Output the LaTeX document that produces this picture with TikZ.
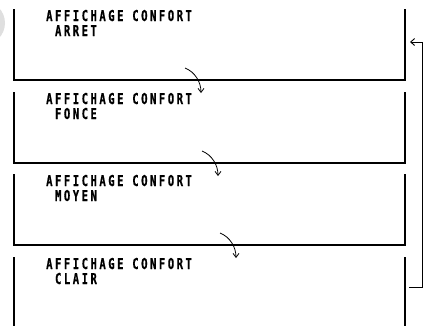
\documentclass[tikz,border=0pt]{standalone}
\usepackage{fontspec}
\usetikzlibrary{arrows.meta}
\newfontfamily\lblfont[FakeStretch=0.7,LetterSpace=17,FakeBold=0.6]{DejaVu Sans Mono Bold}
\tikzset{
  boxline/.style={line width=1.3pt},
  lbl/.style={anchor=base west,inner sep=0pt,font=\lblfont\fontsize{15}{16}\selectfont,align=left},
  flow/.style={line width=0.8pt,-{Straight Barb[length=4pt,width=6pt]}},
  back/.style={line width=0.9pt,-{Straight Barb[length=4pt,width=7pt]}}
}
\begin{document}
\begin{tikzpicture}[x=1pt,y=-1pt]
\useasboundingbox (0,0) rectangle (426,325);
\fill[gray!25] (-17,23) circle (22);
% boxes
\draw[boxline] (14,9) -- (14,80) -- (405,80) -- (405,9);
\draw[boxline] (14,92) -- (14,163) -- (405,163) -- (405,92);
\draw[boxline] (14,174) -- (14,245) -- (405,245) -- (405,174);
\draw[boxline] (14,257) -- (14,330);
\draw[boxline] (405,257) -- (405,330);
% labels
\node[lbl] (t1) at (46,21) {AFFICHAGE CONFORT};
\node[lbl] (s1) at (46,36) {\ ARRET};
\node[lbl] (t2) at (46,104) {AFFICHAGE CONFORT};
\node[lbl] (s2) at (46,119) {\ FONCE};
\node[lbl] (t3) at (46,186) {AFFICHAGE CONFORT};
\node[lbl] (s3) at (46,201) {\ MOYEN};
\node[lbl] (t4) at (46,269) {AFFICHAGE CONFORT};
\node[lbl] (s4) at (46,284) {\ CLAIR};
% transition arrows
\coordinate (a1) at (185,68); \coordinate (b1) at (201,93);
\coordinate (a2) at (202,151); \coordinate (b2) at (218,176);
\coordinate (a3) at (220,233); \coordinate (b3) at (236,258);
\draw[flow] (a1) .. controls (195,72) and (201,82) .. (b1);
\draw[flow] (a2) .. controls (212,155) and (218,165) .. (b2);
\draw[flow] (a3) .. controls (230,237) and (236,247) .. (b3);
% feedback
\coordinate (f1) at (409,287);
\coordinate (f2) at (410,42);
\draw[back] (f1) -- (422,287) -- (422,42) -- (f2);
\end{tikzpicture}
\end{document}
